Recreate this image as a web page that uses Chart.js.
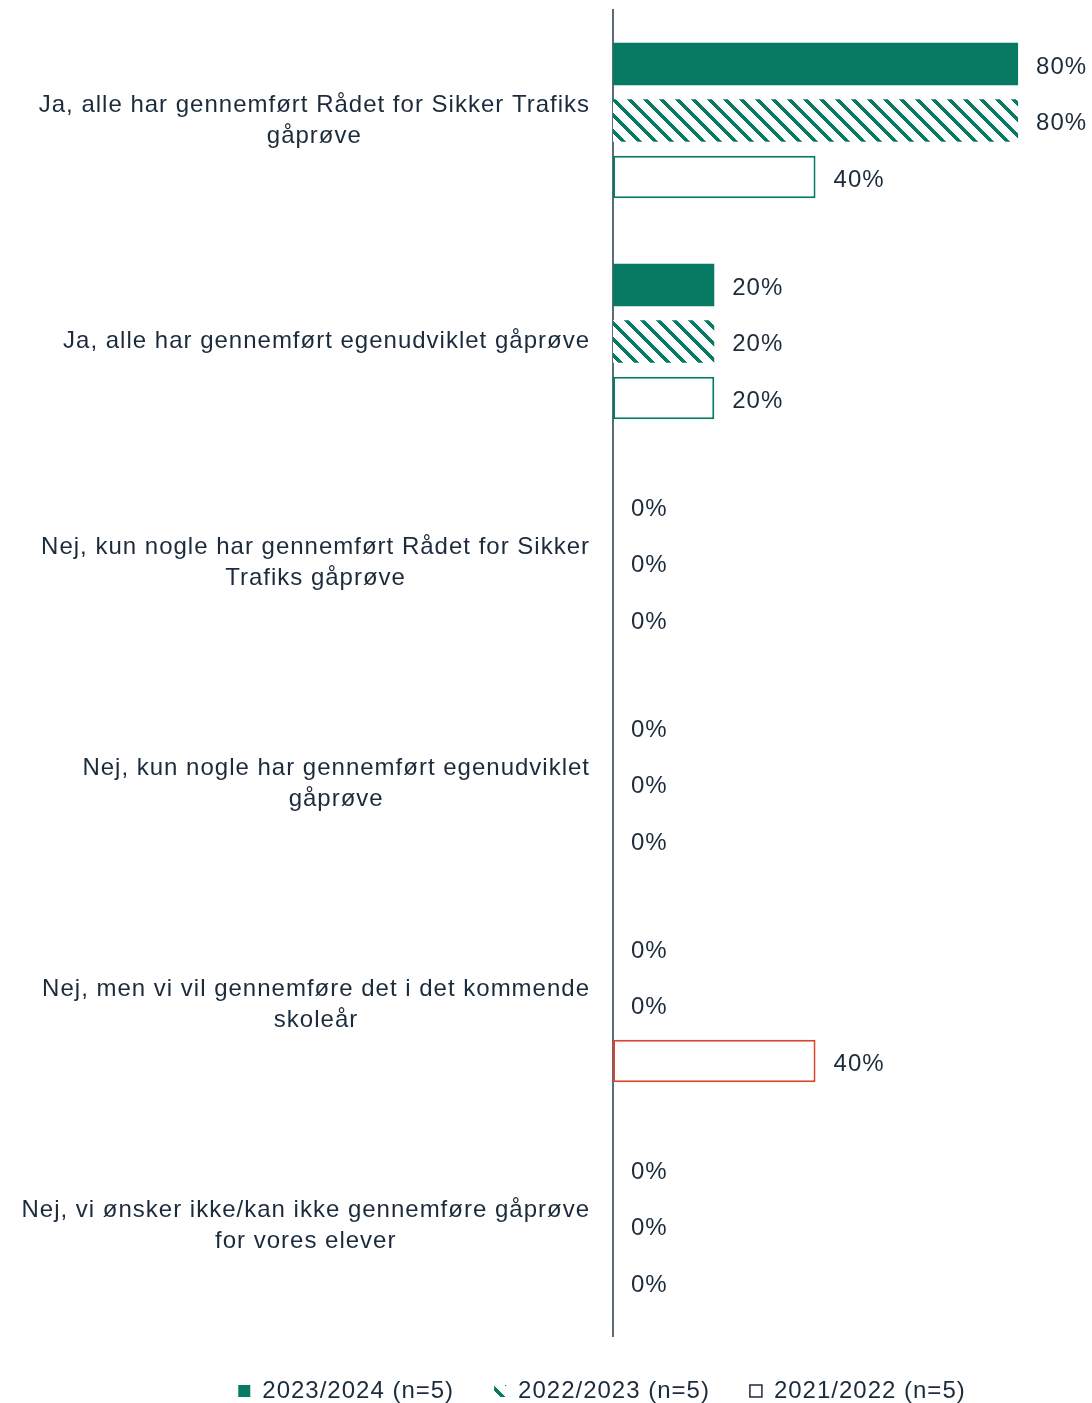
<!DOCTYPE html>
<html>
<head>
<meta charset="utf-8">
<script src="https://cdn.jsdelivr.net/npm/chart.js@4"></script>
<style>
  html, body { margin: 0; padding: 0; background: #fff; }
</style>
</head>
<body>
<canvas id="chart" width="1092" height="1403"></canvas>
<script>
const categories = [
    ['Ja, alle har gennemført Rådet for Sikker Trafiks', 'gåprøve'],
    ['Ja, alle har gennemført egenudviklet gåprøve'],
    ['Nej, kun nogle har gennemført Rådet for Sikker', 'Trafiks gåprøve'],
    ['Nej, kun nogle har gennemført egenudviklet', 'gåprøve'],
    ['Nej, men vi vil gennemføre det i det kommende', 'skoleår'],
    ['Nej, vi ønsker ikke/kan ikke gennemføre gåprøve', 'for vores elever']
];
const seriesNames = ['2023/2024 (n=5)', '2022/2023 (n=5)', '2021/2022 (n=5)'];
const values2324 = [80, 20, 0, 0, 0, 0];
const values2223 = [80, 20, 0, 0, 0, 0];
const values2122 = [40, 20, 0, 0, 40, 0];

const GREEN = '#067A62';
const RED = '#D8472B';
const TEXT = '#1C2B3B';
const AXIS = '#5B6B79';
const FONT = '"Liberation Sans", Arial, sans-serif';

// diagonal stripes for the 2022/2023 series
function makeHatch() {
    const c = document.createElement('canvas');
    c.width = 16;
    c.height = 16;
    const g = c.getContext('2d');
    g.fillStyle = '#fff';
    g.fillRect(0, 0, 16, 16);
    g.fillStyle = GREEN;
    for (let y = 0; y < 16; y++) {
        for (let k = 0; k < 5; k++) {
            g.fillRect((y + k) % 16, y, 1, 1);
        }
    }
    return g.createPattern(c, 'repeat');
}

const spacing = '1px';

const textPlugin = {
    id: 'texts',
    beforeLayout(chart) { chart.ctx.letterSpacing = spacing; },
    afterLayout(chart) {
        // legend sits a bit lower and to the right of the canvas centre
        const lg = chart.legend;
        lg.left += 56;
        lg.right += 56;
        lg.top += 26;
        lg.bottom += 26;
    },
    beforeDraw(chart) { chart.ctx.letterSpacing = spacing; },
    afterDatasetsDraw(chart) {
        const ctx = chart.ctx;
        ctx.save();
        ctx.letterSpacing = spacing;
        ctx.font = '24px ' + FONT;
        ctx.fillStyle = TEXT;
        ctx.textBaseline = 'middle';
        ctx.textAlign = 'left';
        chart.data.datasets.forEach((ds, i) => {
            chart.getDatasetMeta(i).data.forEach((bar, j) => {
                ctx.fillText(ds.data[j] + '%', bar.x + 18, bar.y + 3);
            });
        });

        // category labels, each centred on its own widest line
        const yScale = chart.scales.y;
        ctx.textAlign = 'center';
        categories.forEach((lines, i) => {
            const y = yScale.getPixelForTick(i);
            const widest = Math.max(...lines.map(l => ctx.measureText(l).width));
            const cx = 590 - widest / 2;
            lines.forEach((line, k) => {
                ctx.fillText(line, cx, y + (k - (lines.length - 1) / 2) * 31);
            });
        });
        ctx.restore();
    }
};

const ctx = document.getElementById('chart').getContext('2d');

new Chart(ctx, {
    type: 'bar',
    data: {
        labels: categories,
        datasets: [{
            label: seriesNames[0],
            data: values2324,
            backgroundColor: GREEN,
            borderWidth: 0
        }, {
            label: seriesNames[1],
            data: values2223,
            backgroundColor: makeHatch(),
            borderWidth: 0
        }, {
            label: seriesNames[2],
            data: values2122,
            backgroundColor: '#fff',
            borderColor: [GREEN, GREEN, GREEN, GREEN, RED, GREEN],
            borderWidth: 2,
            borderSkipped: false
        }]
    },
    options: {
        indexAxis: 'y',
        responsive: false,
        animation: false,
        categoryPercentage: 0.767,
        barPercentage: 0.752,
        layout: { padding: { top: 10, right: 0, bottom: 16, left: 0 } },
        plugins: {
            tooltip: { enabled: false },
            legend: {
                position: 'bottom',
                labels: {
                    font: { size: 24, family: FONT },
                    color: TEXT,
                    boxWidth: 12,
                    boxHeight: 12,
                    padding: 17,
                    generateLabels: chart => chart.data.datasets.map((ds, i) => ({
                        text: ds.label + (i < 2 ? '   ' : ''),
                        fillStyle: i === 2 ? '#fff' : ds.backgroundColor,
                        strokeStyle: i === 2 ? TEXT : 'rgba(0,0,0,0)',
                        lineWidth: i === 2 ? 1.5 : 0,
                        fontColor: TEXT,
                        datasetIndex: i,
                        hidden: false
                    }))
                }
            }
        },
        scales: {
            x: { display: false, min: 0, max: 94.6 },
            y: {
                grid: { display: false, drawTicks: false },
                border: { display: true, color: AXIS, width: 2 },
                ticks: { display: false },
                afterFit: scale => { scale.width = 613; }
            }
        }
    },
    plugins: [textPlugin]
});
</script>
</body>
</html>
